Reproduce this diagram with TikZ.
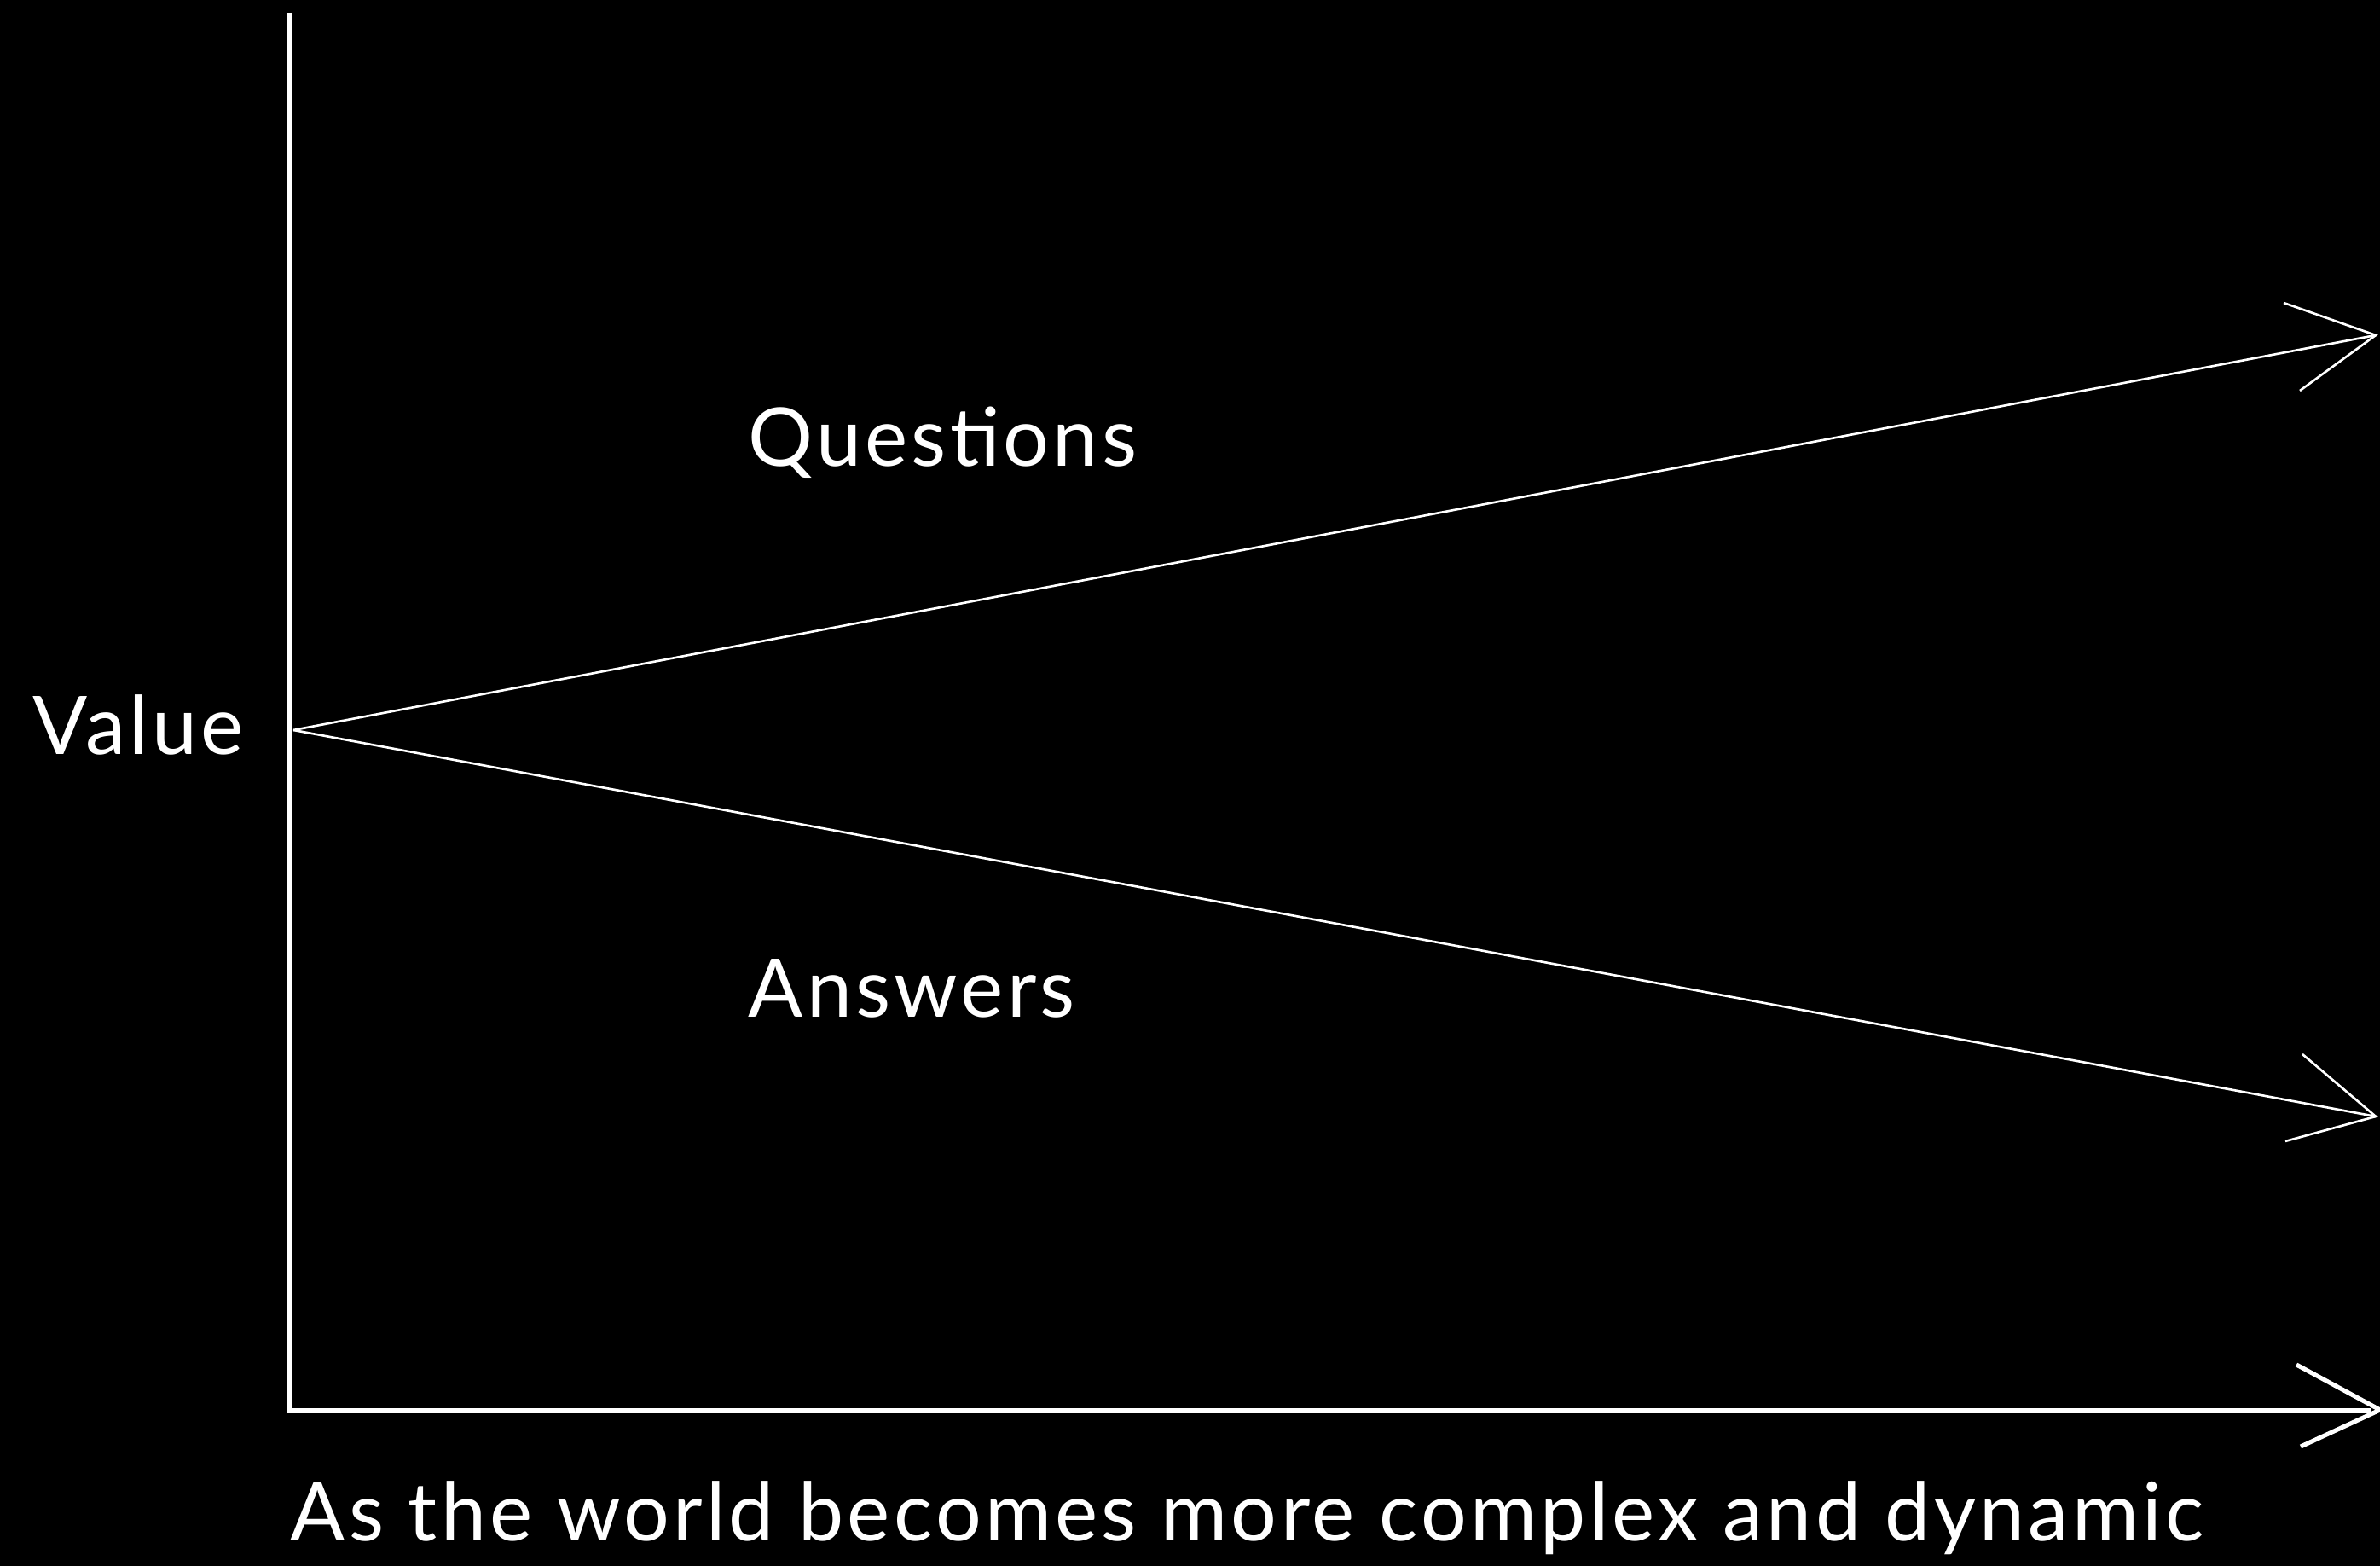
\documentclass[tikz,border=0pt]{standalone}
\usepackage{fontspec}
\setmainfont{Lato}[LetterSpace=4.5]
\begin{document}
\begin{tikzpicture}[
    axisline/.style={draw=white, line width=1.45pt},
    trendline/.style={draw=white, line width=0.75pt},
    lbl/.style={text=white, inner sep=0pt, font=\fontsize{27}{32}\selectfont}
  ]
  \fill[black] (0, 0) rectangle (27.91, 18.36);
  \useasboundingbox (0, 0) rectangle (27.91, 18.36);
  % axes
  \coordinate (O) at (3.39, 1.82);
  \coordinate (Ytop) at (3.39, 18.21);
  \coordinate (Xend) at (27.80, 1.82);
  \coordinate (Xtip) at (27.91, 1.83);
  \coordinate (Xa1) at (26.93, 2.36);
  \coordinate (Xa2) at (26.98, 1.40);
  \draw[axisline] (Ytop) -- (O) -- (Xend);
  \draw[axisline] (Xa1) -- (Xtip) -- (Xa2);
  % questions and answers
  \coordinate (S) at (3.44, 9.80);
  \coordinate (Qtip) at (27.86, 14.43);
  \coordinate (Qa1) at (26.78, 14.81);
  \coordinate (Qa2) at (26.97, 13.78);
  \coordinate (Atip) at (27.86, 5.27);
  \coordinate (Aa1) at (27.00, 6.00);
  \coordinate (Aa2) at (26.80, 4.98);
  \draw[trendline] (S) -- (Qtip);
  \draw[trendline] (Qa1) -- (Qtip) -- (Qa2);
  \draw[trendline] (S) -- (Atip);
  \draw[trendline] (Aa1) -- (Atip) -- (Aa2);
  % labels
  \node[lbl, anchor=base west] (questions) at (8.77, 12.89) {Questions};
  \node[lbl, anchor=base west] (answers) at (8.77, 6.43) {Answers};
  \node[lbl, anchor=base west] (value) at (0.38, 9.51) {Value};
  \node[lbl, anchor=base west] (xlabel) at (3.40, 0.29) {As the world becomes more complex and dynamic};
\end{tikzpicture}
\end{document}
